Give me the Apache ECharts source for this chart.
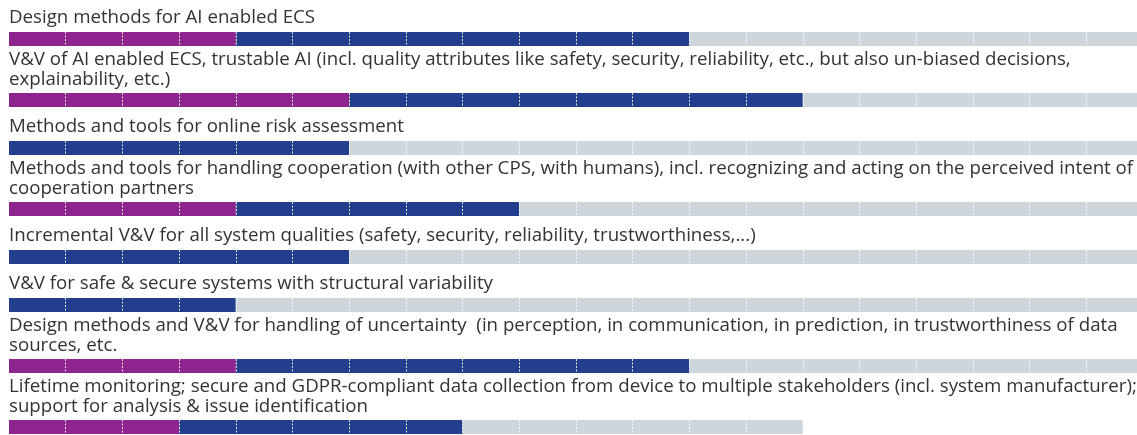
<!DOCTYPE html>
<html>
	<head>
		<meta charset="utf-8">
		<title>Roadmap</title>
		<style type="text/css">
			html, body { margin: 0; padding: 0; background: #fff; }
			#main { width: 1137px; height: 435px; }
		</style>
	</head>
	<body>
		<div id="main"></div>
		<script src="https://cdn.jsdelivr.net/npm/echarts@6/dist/echarts.min.js"></script>
		<script type="text/javascript">
			// topic labels (line breaks as in the original)
			var topics = [
				'Design methods for AI enabled ECS',
				'V&V of AI enabled ECS, trustable AI (incl. quality attributes like safety, security, reliability, etc., but also un-biased decisions,\nexplainability, etc.)',
				'Methods and tools for online risk assessment',
				'Methods and tools for handling cooperation (with other CPS, with humans), incl. recognizing and acting on the perceived intent of\ncooperation partners',
				'Incremental V&V for all system qualities (safety, security, reliability, trustworthiness,...)',
				'V&V for safe & secure systems with structural variability',
				'Design methods and V&V for handling of uncertainty  (in perception, in communication, in prediction, in trustworthiness of data\nsources, etc.',
				'Lifetime monitoring; secure and GDPR-compliant data collection from device to multiple stakeholders (incl. system manufacturer);\nsupport for analysis & issue identification'
			];
			// number of periods per phase
			var purpleCells = [4, 6, 0, 4, 0, 0, 4, 3];
			var blueCells = [8, 8, 6, 5, 6, 4, 8, 5];
			var greyCells = [8, 6, 14, 11, 14, 16, 8, 6];
			var totalCells = 20;

			var myChart = echarts.init(document.getElementById('main'));

			var barH = 14;
			var grids = [], xAxes = [], yAxes = [], series = [], titles = [];
			var barTop = 32;
			for (var i = 0; i < topics.length; i++) {
				var lines = topics[i].split('\n').length;
				if (i > 0) barTop += barH + (lines == 1 ? 34 : 47);
				titles.push({
					text: topics[i],
					left: 9,
					top: barTop - 24 - (lines - 1) * 19,
					padding: 0,
					textStyle: {
						fontFamily: 'Open Sans',
						fontSize: 18.7,
						fontWeight: 'normal',
						color: '#333333',
						lineHeight: 19.5
					}
				});
				grids.push({ left: 9, right: -6, top: barTop, height: barH, outerBoundsMode: 'none', containLabel: false });
				xAxes.push({
					gridIndex: i,
					type: 'value',
					min: 0,
					max: totalCells,
					interval: 1,
					z: 5,
					axisLine: { show: false },
					axisTick: { show: false },
					axisLabel: { show: false },
					splitLine: {
						show: true,
						showMinLine: false,
						showMaxLine: false,
						lineStyle: { color: '#ffffff', width: 1, type: [2, 1.5], opacity: 0.85 }
					}
				});
				yAxes.push({
					gridIndex: i,
					type: 'category',
					data: ['r'],
					show: false
				});
				var parts = [[purpleCells[i], '#8e248e'], [blueCells[i], '#233e8c'], [greyCells[i], '#cdd5dd']];
				for (var k = 0; k < parts.length; k++) {
					series.push({
						type: 'bar',
						name: 'p' + k,
						xAxisIndex: i,
						yAxisIndex: i,
						stack: 'row' + i,
						barWidth: '100%',
						silent: true,
						data: [parts[k][0]],
						itemStyle: { color: parts[k][1] }
					});
				}
			}

			var option = {
				animation: false,
				title: titles,
				grid: grids,
				xAxis: xAxes,
				yAxis: yAxes,
				series: series
			};
			myChart.setOption(option);
		</script>
	</body>
</html>
